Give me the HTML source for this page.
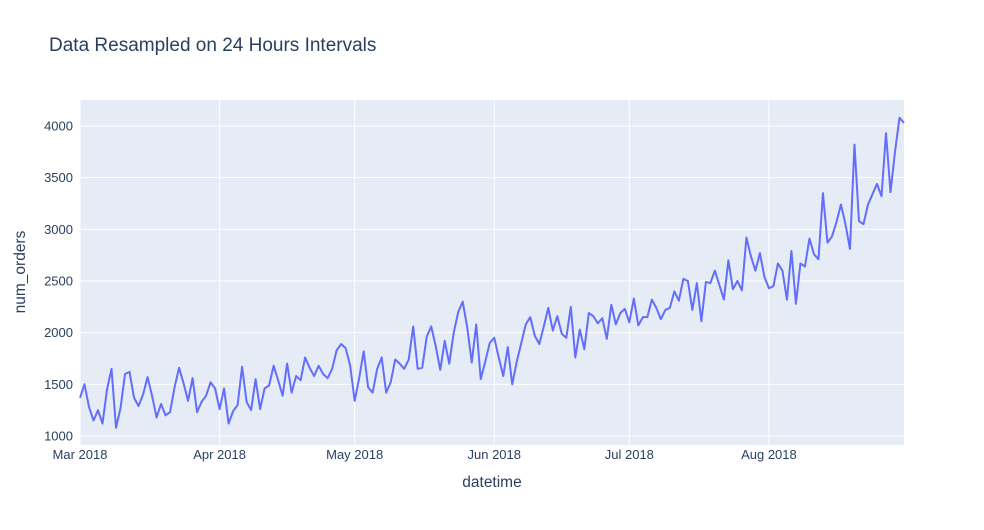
<!DOCTYPE html>
<html><head><meta charset="utf-8"><style>
body{margin:0;background:#fff;font-family:"Liberation Sans",sans-serif;}
svg text{font-family:"Liberation Sans",sans-serif;fill:#2a3f5f;}
</style></head><body>
<svg id="chart" width="984" height="525" xmlns="http://www.w3.org/2000/svg">
<rect width="984" height="525" fill="#fff"/>
<text x="49" y="51" font-size="19">Data Resampled on 24 Hours Intervals</text>
<rect x="80" y="100" width="824" height="345" fill="#E5ECF6"/>
<g id="grid"></g>
<g id="series"></g>
<g id="axes"></g>
<text x="492" y="487" font-size="15.5" text-anchor="middle">datetime</text>
<text x="0" y="0" font-size="15.5" text-anchor="middle" transform="translate(25,272) rotate(-90)">num_orders</text>
</svg>
<script>
const startDate = "2018-03-01";
const endDate = "2018-08-31";
const values = [
1370,1500,1280,1150,1250,1120,1450,1650,1080,1270,1600,1620,1370,1290,1400,1570,1390,1180,1310,1200,1230,1470,1660,1510,1340,1560,1230,1330,1390,1520,1460,
1260,1460,1120,1240,1300,1670,1330,1250,1550,1260,1460,1490,1680,1540,1390,1700,1420,1580,1540,1760,1660,1580,1680,1600,1560,1650,1830,1890,1850,1680,
1340,1560,1820,1470,1420,1650,1760,1420,1520,1740,1700,1650,1740,2060,1650,1660,1960,2060,1870,1640,1920,1700,2000,2200,2300,2050,1710,2080,1550,1720,1900,
1950,1760,1580,1860,1500,1720,1900,2080,2150,1970,1890,2060,2240,2020,2160,1990,1950,2250,1760,2030,1840,2190,2160,2090,2140,1940,2270,2080,2190,2230,
2100,2330,2070,2150,2150,2320,2240,2130,2220,2240,2400,2310,2520,2500,2220,2480,2110,2490,2480,2600,2460,2320,2700,2420,2500,2410,2920,2740,2600,2770,2540,
2430,2450,2670,2600,2320,2790,2280,2670,2640,2910,2760,2710,3350,2870,2930,3070,3240,3050,2810,3820,3080,3050,3240,3340,3440,3320,3930,3360,3750,4080,4030
];
const yTicks = [1000,1500,2000,2500,3000,3500,4000];
const xTickDates = ["2018-03-01","2018-04-01","2018-05-01","2018-06-01","2018-07-01","2018-08-01"];
const xTickLabels = ["Mar 2018","Apr 2018","May 2018","Jun 2018","Jul 2018","Aug 2018"];

const NS="http://www.w3.org/2000/svg";
const t0=Date.parse(startDate), t1=Date.parse(endDate);
const X0=80, X1=904;
function xScale(ms){return X0+(ms-t0)/(t1-t0)*(X1-X0);}
function yScale(v){return 436+(v-1000)*(126-436)/3000;}
function mk(tag,attrs,parent){const e=document.createElementNS(NS,tag);for(const k in attrs)e.setAttribute(k,attrs[k]);parent.appendChild(e);return e;}
const grid=document.getElementById('grid'), axes=document.getElementById('axes'), series=document.getElementById('series');
yTicks.forEach(v=>{
  const y=yScale(v);
  const l=mk('line',{x1:X0,x2:X1,y1:y,y2:y,stroke:'#fff','stroke-width':1},grid);
  
  
  const t=mk('text',{x:73,y:y+4.5,'font-size':13,'text-anchor':'end'},axes);
  t.textContent=String(v);
  
  
});
xTickDates.forEach((d,i)=>{
  const x=xScale(Date.parse(d));
  const l=mk('line',{x1:x,x2:x,y1:100,y2:445,stroke:'#fff','stroke-width':1},grid);
  
  
  const t=mk('text',{x:x,y:459,'font-size':13,'text-anchor':'middle'},axes);
  t.textContent=xTickLabels[i];
  
  
});
const pts=values.map((v,i)=>xScale(t0+i*86400000).toFixed(2)+','+yScale(v).toFixed(2)).join(' ');
const pl=mk('polyline',{points:pts,fill:'none',stroke:'#636efa','stroke-width':2,'stroke-linejoin':'round'},series);


</script>
</body></html>
